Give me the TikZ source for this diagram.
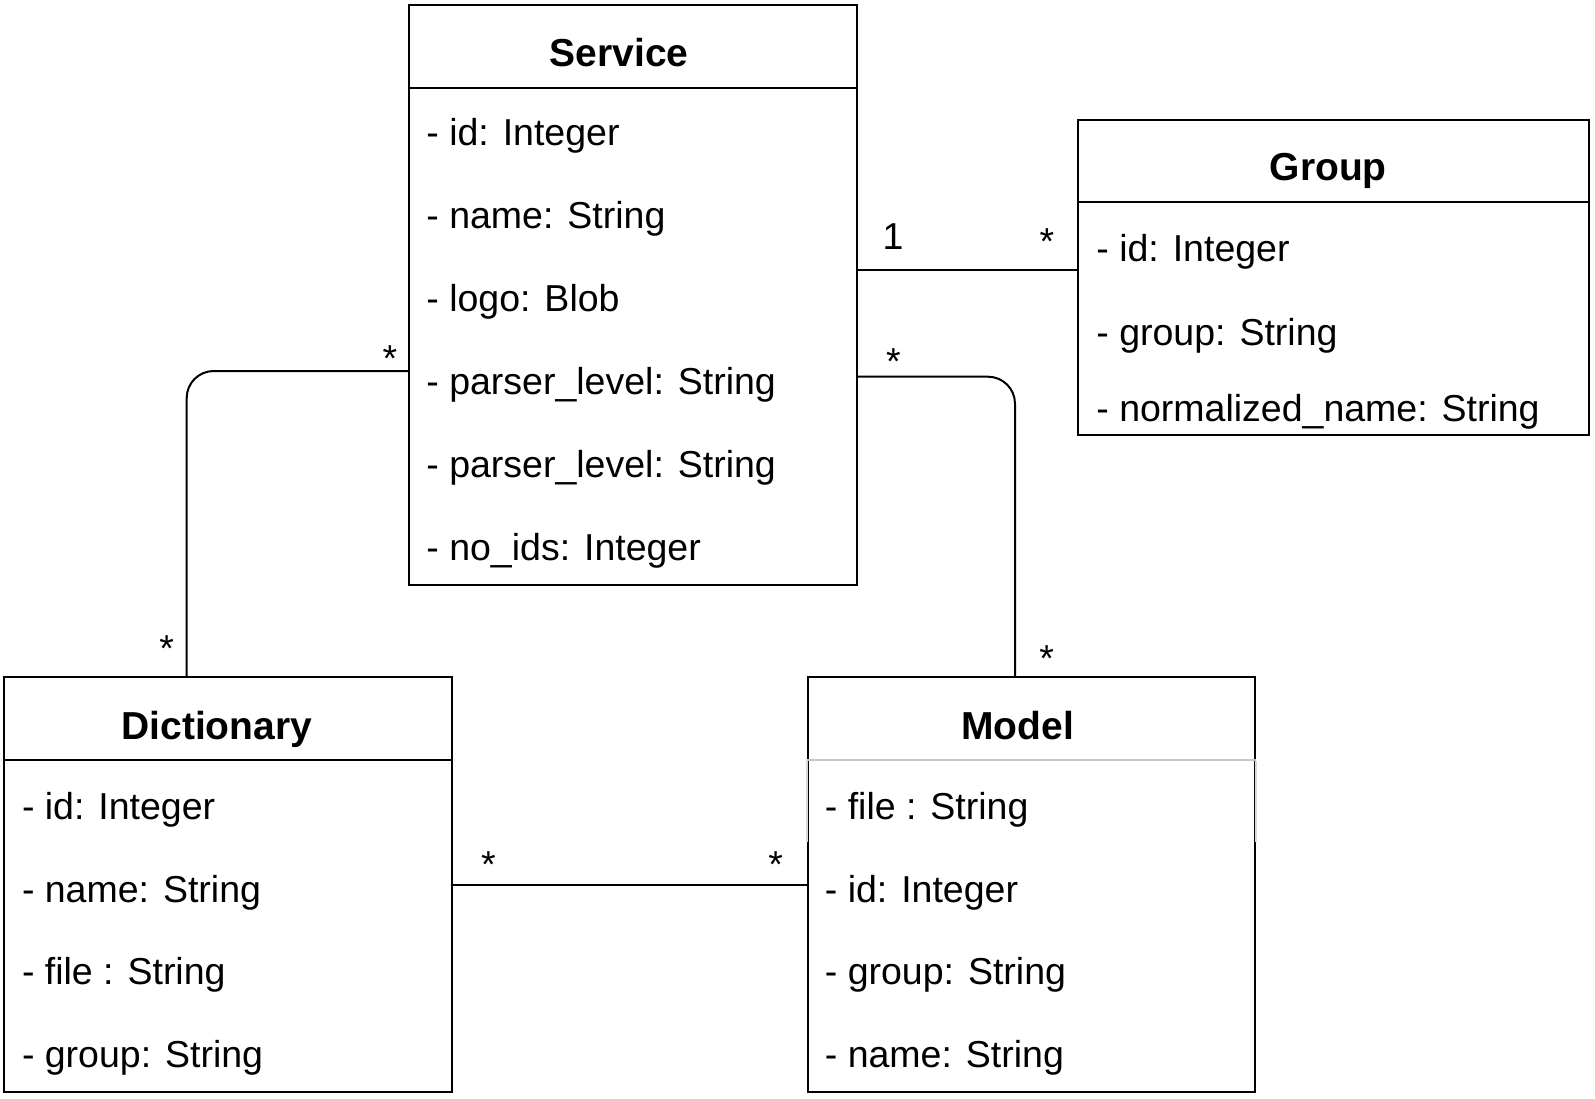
\documentclass[tikz,border=0pt]{standalone}
\usepackage{fontspec}
\setmainfont{Liberation Sans}
\usetikzlibrary{fit}
\tikzset{
  cls/.style={draw, line width=1pt, inner sep=0pt},
  sep/.style={line width=1pt},
  conn/.style={line width=1pt, rounded corners=13.5pt},
  attr/.style={anchor=base west, inner sep=0pt, font=\fontsize{18.75}{22}\selectfont},
  ttl/.style={anchor=base, inner sep=0pt, font=\fontsize{19.5}{23}\selectfont\bfseries},
  mult/.style={anchor=north, inner sep=0pt, font=\fontsize{18.75}{22}\selectfont},
  one/.style={anchor=base, inner sep=0pt, font=\fontsize{18.75}{22}\selectfont}
}
\begin{document}
\begin{tikzpicture}[x=0.5pt,y=-0.5pt]
\useasboundingbox (0,0) rectangle (1595,1098);

% ---- Service ----
\node[cls, fit={(409.3,4.7) (856.7,585)}] (service) {};
\draw[sep] (service.west |- 0,88.3) -- (service.east |- 0,88.3);
\node[ttl] (serviceT) at (619.2,66) {Service};
\node[attr] (s1) at (426,145.7) {- id: Integer};
\node[attr] (s2) at (426,228.7) {- name: String};
\node[attr] (s3) at (426,311.7) {- logo: Blob};
\node[attr] (s4) at (426,394.7) {- parser\_level: String};
\node[attr] (s5) at (426,477.7) {- parser\_level: String};
\node[attr] (s6) at (426,560.7) {- no\_ids: Integer};

% ---- Group ----
\node[cls, fit={(1078,119.5) (1589,435)}] (group) {};
\draw[sep] (group.west |- 0,202.3) -- (group.east |- 0,202.3);
\node[ttl] (groupT) at (1328.2,180.8) {Group};
\node[attr] (g1) at (1096,261.7) {- id: Integer};
\node[attr] (g2) at (1096,345) {- group: String};
\node[attr] (g3) at (1096,421.7) {- normalized\_name: String};

% ---- Dictionary ----
\node[cls, fit={(4.3,677.3) (452.3,1092.3)}] (dict) {};
\draw[sep] (dict.west |- 0,760) -- (dict.east |- 0,760);
\node[ttl] (dictT) at (216.7,739.5) {Dictionary};
\node[attr] (d1) at (21.6,819.3) {- id: Integer};
\node[attr] (d2) at (21.6,902) {- name: String};
\node[attr] (d3) at (21.6,984.7) {- file : String};
\node[attr] (d4) at (21.6,1067.3) {- group: String};

% ---- Model ----
\node[cls, fit={(807.5,677.3) (1255,1092.3)}] (model) {};
\draw[line width=1pt, gray!45] (model.west |- 0,760) -- (model.east |- 0,760);
\draw[line width=1pt, gray!30] (model.west |- 0,761) -- (model.west |- 0,841.7);
\draw[line width=1pt, gray!30] (model.east |- 0,761) -- (model.east |- 0,841.7);
\node[ttl] (modelT) at (1017.5,739.5) {Model};
\node[attr] (m1) at (824.5,819.3) {- file : String};
\node[attr] (m2) at (824.5,902) {- id: Integer};
\node[attr] (m3) at (824.5,984.7) {- group: String};
\node[attr] (m4) at (824.5,1067.3) {- name: String};

% ---- Connectors ----
\draw[conn] (service.east |- 0,270) -- (group.west |- 0,270);
\draw[conn] (service.west |- 0,371) -| (dict.north -| 186.7,0);
\draw[conn] (service.east |- 0,376.7) -| (model.north -| 1015,0);
\draw[conn] (dict.east |- 0,885) -- (model.west |- 0,885);

% ---- Multiplicities ----
\node[one] (l1) at (893,249.3) {1};
\node[mult] (l2) at (1047,228) {*};
\node[mult] (l3) at (390,345) {*};
\node[mult] (l4) at (166.7,635) {*};
\node[mult] (l5) at (893.3,348) {*};
\node[mult] (l6) at (1046.7,645) {*};
\node[mult] (l7) at (488.3,851.7) {*};
\node[mult] (l8) at (775.7,851.7) {*};
\end{tikzpicture}
\end{document}
